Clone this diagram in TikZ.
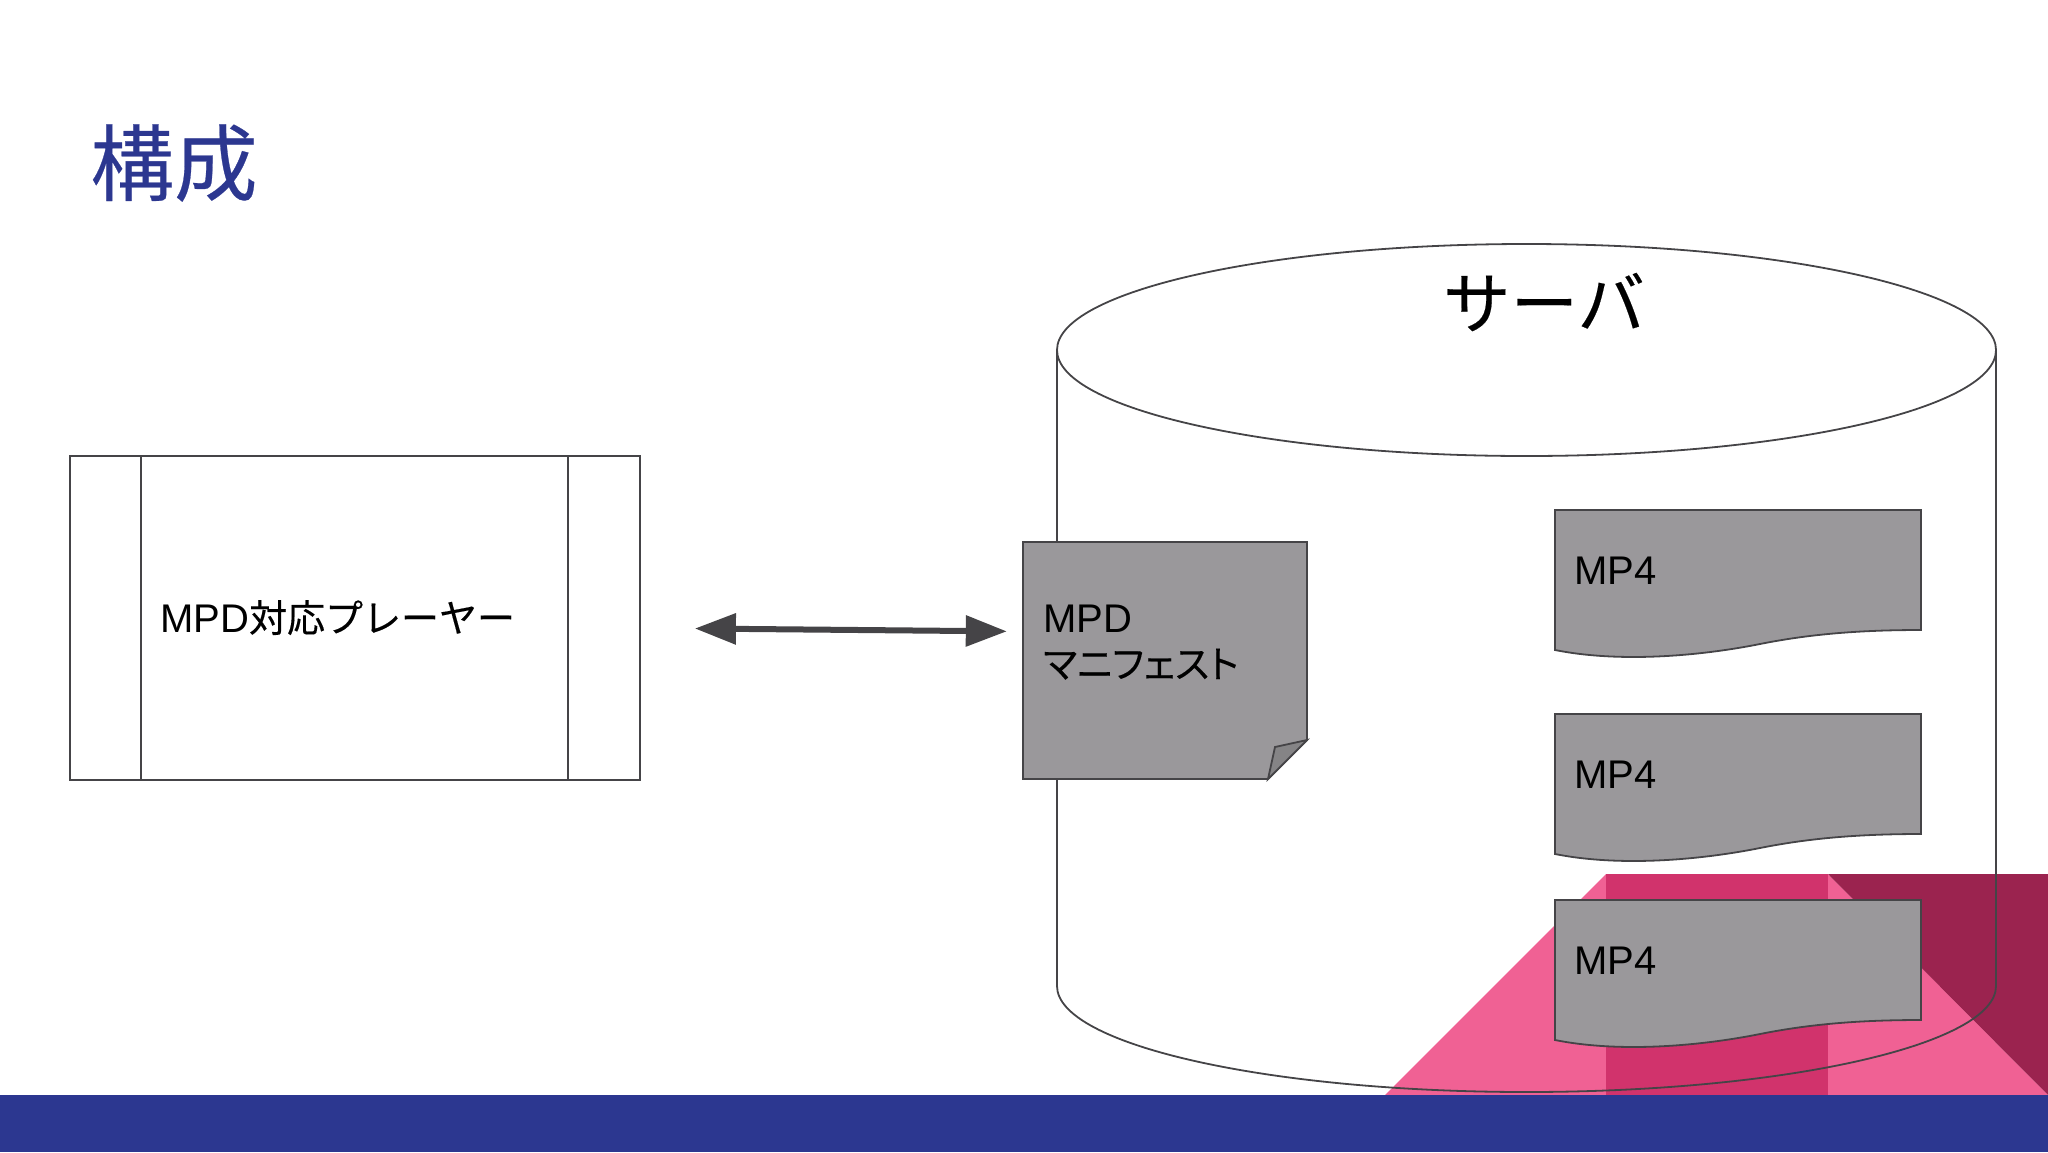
\documentclass[tikz,border=0pt]{standalone}
\usepackage{fontspec}
\setmainfont{Liberation Sans}
\newfontfamily\cjk[Scale=0.95,FakeBold=0.3]{Noto Sans CJK JP}
\newfontfamily\cjkp[Scale=0.95,FakeBold=0.3,RawFeature=+palt]{Noto Sans CJK JP}
\usetikzlibrary{arrows.meta}
\definecolor{barblue}{HTML}{2C3790}
\definecolor{lightpink}{HTML}{F06194}
\definecolor{midpink}{HTML}{D1336C}
\definecolor{darkpink}{HTML}{9B234F}
\definecolor{docgrey}{HTML}{9A989B}
\definecolor{foldgrey}{HTML}{858486}
\definecolor{edgegrey}{HTML}{454447}
\newcommand{\bodyfont}{\fontsize{40}{46}\selectfont}
\begin{document}
\begin{tikzpicture}[x=1pt,y=-1pt,>=Stealth]
      % Styles
      \tikzset{
        outline/.style={draw=edgegrey, line width=1.8pt},
        docshape/.style={outline, fill=docgrey},
        doclabel/.style={anchor=base west, inner sep=0pt, font=\bodyfont},
        biarrow/.style={<->, draw=edgegrey, fill=edgegrey, line width=6pt},
      }
      \useasboundingbox (0,0) rectangle (2048,1152);
      % Background
      \fill[lightpink] (1385,1095) -- (1606,874) -- (1828,874) -- (2048,1095) -- cycle;
      \fill[midpink] (1606,874) rectangle (1828,1095);
      \fill[darkpink] (1828,874) -- (2048,874) -- (2048,1095) -- cycle;
      \fill[barblue] (0,1095) rectangle (2048,1152);
      % Title
      \node (title) at (174,163) {\fontsize{88}{94}\selectfont\color{barblue}\cjk 構成};
      % Player
      \node (player) [outline, minimum width=570pt, minimum height=324pt, inner sep=0pt] at (355,618) {};
      \draw[outline] (141,456) -- (141,780);
      \draw[outline] (568,456) -- (568,780);
      \node (playerlabel) [doclabel] at (160,632) {MPD{\cjk 対応プレーヤー}};
      % Server
      \draw[outline] (1526.5,350) ellipse [x radius=469.5, y radius=106];
      \draw[outline] (1057,350) -- (1057,986) arc [start angle=180, end angle=0, x radius=469.5, y radius=106] -- (1996,350);
      \node (server) at (1544,302) {\fontsize{71}{76}\selectfont\cjk サーバ};
      % Manifest
      \draw[docshape] (1023,542) -- (1307,542) -- (1307,740) -- (1268,779) -- (1023,779) -- cycle;
      \draw[outline, fill=foldgrey] (1307,740) -- (1275,747) -- (1268,779) -- cycle;
      \node (manifest) [minimum width=284pt, minimum height=237pt, inner sep=0pt] at (1165,660.5) {};
      \node (mpdlabel) [doclabel] at (1043,632) {MPD};
      \node (manifestlabel) [doclabel] at (1043,678) {\cjkp マニフェスト};
      % Media files
      \foreach \t/\n in {510/one,714/two,900/three}{
        \draw[docshape] (1555,\t) -- (1921,\t) -- (1921,\t+120)
          .. controls (1860,\t+120) and (1810,\t+124) .. (1760,\t+134)
          .. controls (1700,\t+146) and (1620,\t+153) .. (1555,\t+140) -- cycle;
        \node (mp\n) [doclabel] at (1574,\t+74) {MP4};
      }
      % Arrow
      \draw[biarrow, >={Triangle[length=41pt,width=30pt]}, shorten <=54pt, shorten >=16pt] ([yshift=-10pt]player.east) -- ([yshift=29pt]manifest.west);
    \end{tikzpicture}
\end{document}
